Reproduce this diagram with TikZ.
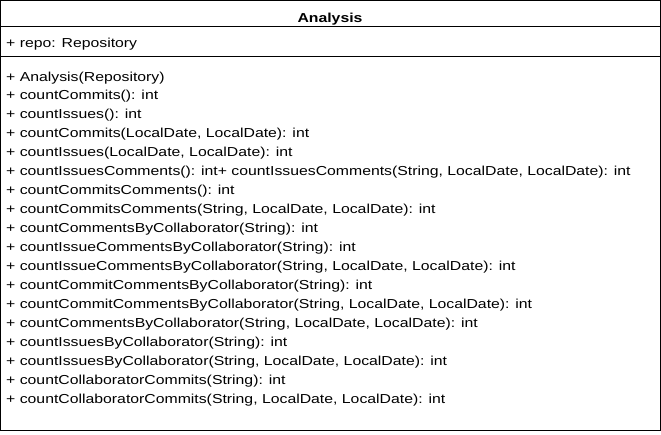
\documentclass[tikz,border=0pt]{standalone}
\usepackage{fontspec}
\setmainfont[FakeStretch=1.215]{Liberation Sans}
\tikzset{
    member/.style={anchor=base west, inner sep=0pt, font=\fontsize{13}{15}\selectfont},
    classname/.style={anchor=base, inner sep=0pt, font=\fontsize{13}{15}\selectfont\bfseries}
}
\begin{document}
\begin{tikzpicture}[x=1pt, y=-1pt]
    \useasboundingbox (0,0) rectangle (661,434);
    % class box with its compartments
    \draw[line width=1pt] (0.5,0.5) rectangle (660,430.5);
    \draw[line width=1pt] (0.5,26) -- (660,26);
    \draw[line width=1pt] (0.5,56) -- (660,56);
    \node[classname] (title) at (330,22) {Analysis};
    \node[member] (repo) at (6,47) {+ repo: Repository};
    % operations
    \foreach \op [count=\i] in {
        {+ Analysis(Repository)},
        {+ countCommits(): int},
        {+ countIssues(): int},
        {+ countCommits(LocalDate, LocalDate): int},
        {+ countIssues(LocalDate, LocalDate): int},
        {+ countIssuesComments(): int+ countIssuesComments(String, LocalDate, LocalDate): int},
        {+ countCommitsComments(): int},
        {+ countCommitsComments(String, LocalDate, LocalDate): int},
        {+ countCommentsByCollaborator(String): int},
        {+ countIssueCommentsByCollaborator(String): int},
        {+ countIssueCommentsByCollaborator(String, LocalDate, LocalDate): int},
        {+ countCommitCommentsByCollaborator(String): int},
        {+ countCommitCommentsByCollaborator(String, LocalDate, LocalDate): int},
        {+ countCommentsByCollaborator(String, LocalDate, LocalDate): int},
        {+ countIssuesByCollaborator(String): int},
        {+ countIssuesByCollaborator(String, LocalDate, LocalDate): int},
        {+ countCollaboratorCommits(String): int},
        {+ countCollaboratorCommits(String, LocalDate, LocalDate): int}}
        \node[member] (op\i) at (6,{81+18.95*(\i-1)}) {\op};
\end{tikzpicture}
\end{document}
